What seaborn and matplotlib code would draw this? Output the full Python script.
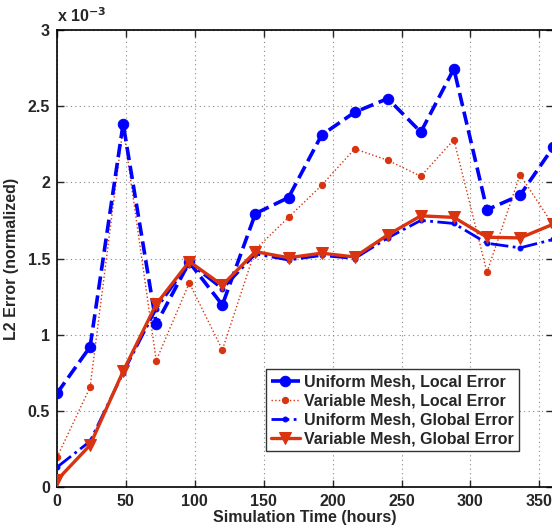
import matplotlib
matplotlib.use("Agg")
import matplotlib.pyplot as plt
import seaborn as sns
import numpy as np

# Data (error values in units of 1e-3)
time_hours = [0, 24, 48, 72, 96, 120, 144, 168, 192, 216, 240, 264, 288, 312, 336, 360]
uniform_local = [0.615, 0.92, 2.385, 1.07, 1.475, 1.195, 1.795, 1.90, 2.31, 2.46, 2.55, 2.33, 2.745, 1.82, 1.915, 2.23]
variable_local = [0.195, 0.655, 2.365, 0.83, 1.34, 0.90, 1.56, 1.77, 1.98, 2.22, 2.145, 2.04, 2.28, 1.41, 2.05, 1.72]
uniform_global = [0.13, 0.30, 0.75, 1.17, 1.47, 1.30, 1.53, 1.49, 1.52, 1.50, 1.635, 1.75, 1.73, 1.60, 1.57, 1.625]
variable_global = [0.045, 0.275, 0.76, 1.20, 1.48, 1.325, 1.545, 1.505, 1.535, 1.51, 1.655, 1.78, 1.77, 1.64, 1.635, 1.725]

labels = ["Uniform Mesh, Local Error", "Variable Mesh, Local Error",
          "Uniform Mesh, Global Error", "Variable Mesh, Global Error"]
xticks = [0, 50, 100, 150, 200, 250, 300, 350]
yticks = [0, 0.5, 1, 1.5, 2, 2.5, 3]
ytick_labels = ["0", "0.5", "1", "1.5", "2", "2.5", "3"]

sns.set_style("ticks")
plt.rcParams['font.family'] = ['Liberation Sans', 'DejaVu Sans']
plt.rcParams['font.weight'] = 'bold'

BLUE = "#0000ff"
RED = "#d9330f"

fig = plt.figure(figsize=(5.52, 5.30), dpi=100)
ax_w = 1 - 57/552 + 0.002
ax = fig.add_axes([57/552, 1 - 487/530, ax_w, (487 - 30)/530])
ax_wpx = ax_w * 552

sns.lineplot(x=time_hours, y=uniform_local, ax=ax, color=BLUE, linestyle="--", linewidth=2.6,
             marker="o", markersize=7.5, markeredgecolor=BLUE, markerfacecolor=BLUE,
             label=labels[0], zorder=3)
sns.lineplot(x=time_hours, y=variable_local, ax=ax, color=RED, linestyle=":", linewidth=1.0,
             marker="o", markersize=4.5, markeredgecolor=RED, markerfacecolor=RED,
             label=labels[1], zorder=2)
sns.lineplot(x=time_hours, y=uniform_global, ax=ax, color=BLUE, linestyle="-.", linewidth=2.0,
             marker="o", markersize=3.5, markeredgecolor=BLUE, markerfacecolor=BLUE,
             label=labels[2], zorder=4)
sns.lineplot(x=time_hours, y=variable_global, ax=ax, color=RED, linestyle="-", linewidth=2.4,
             marker="v", markersize=8, markeredgecolor=RED, markerfacecolor=RED,
             label=labels[3], zorder=5)

ax.set_xlim(0, 360)
ax.set_ylim(0, 3)
ax.set_xticks(xticks)
ax.set_xticklabels([str(t) for t in xticks], fontsize=11.5, fontweight='bold')
ax.set_yticks(yticks)
ax.set_yticklabels(ytick_labels, fontsize=11.5, fontweight='bold')
ax.tick_params(direction='in', top=True, right=True, length=5, width=1, pad=5)
ax.grid(True, linestyle=(0, (1, 3)), color='#888888', linewidth=0.8)
for s in ax.spines.values():
    s.set_linewidth(1.2)
    s.set_color('black')

ax.set_xlabel("Simulation Time (hours)", fontsize=11.5, fontweight='bold', labelpad=1)
ax.set_ylabel("L2 Error (normalized)", fontsize=11.5, fontweight='bold', labelpad=6)

ax.text(0.0, 1.012, "x 10$^{\\mathbf{-3}}$", transform=ax.transAxes, fontsize=11.5,
        fontweight='bold', ha='left', va='bottom')

leg = ax.legend(loc='lower left', bbox_to_anchor=((266 - 57)/ax_wpx, (487 - 451)/457),
                fontsize=11.5, frameon=True, fancybox=False, edgecolor='black',
                handlelength=1.8, handletextpad=0.3, borderpad=0.3, labelspacing=0.25,
                borderaxespad=0)
leg.get_frame().set_linewidth(1.0)
for t in leg.get_texts():
    t.set_fontweight('bold')

fig.savefig("out.png", dpi=100)
